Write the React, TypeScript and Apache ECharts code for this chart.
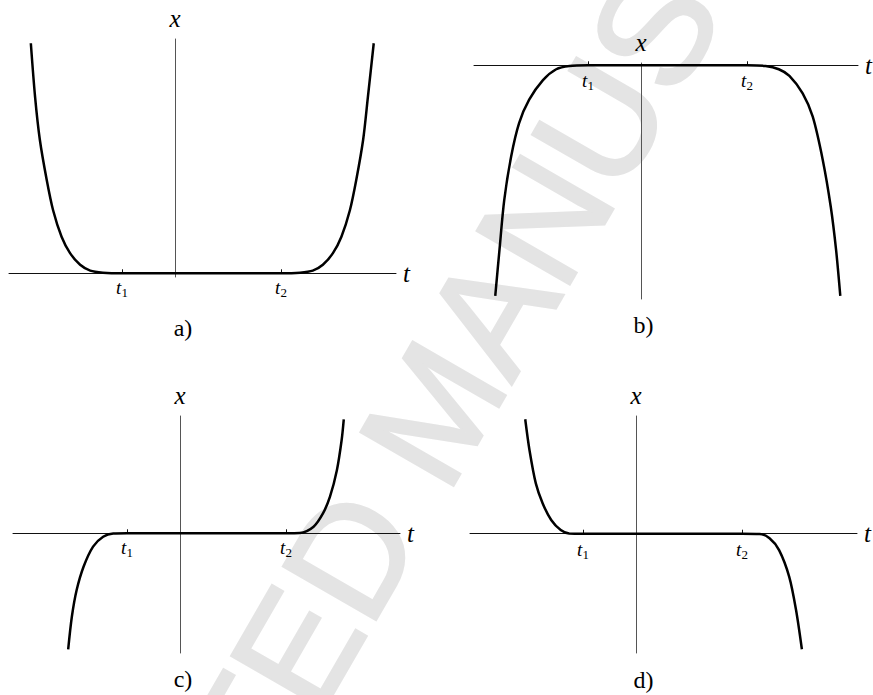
import React, { useEffect, useRef } from 'react';
import * as echarts from 'echarts';

// Panel a) : x >= 0, flat between t1 and t2, rising on both sides
const T_A = [-2.72, -2.64, -2.55, -2.42, -2.30, -2.14, -1.98, -1.79, -1.60, -1.36, -1.0, 2.0, 2.36, 2.60, 2.79, 2.98, 3.14, 3.30, 3.42, 3.55, 3.64, 3.75];
const X_A = [4.34, 3.33, 2.52, 1.76, 1.19, 0.69, 0.38, 0.16, 0.05, 0.012, 0, 0, 0.012, 0.05, 0.16, 0.38, 0.69, 1.19, 1.76, 2.52, 3.33, 4.34];

// Panel b) : x <= 0, falling on both sides
const T_B = [-2.75, -2.67, -2.58, -2.45, -2.30, -2.11, -1.85, -1.60, -1.35, -1.0, 2.0, 2.35, 2.60, 2.80, 3.05, 3.24, 3.43, 3.58, 3.68, 3.76];
const X_B = [-4.35, -3.48, -2.54, -1.72, -1.09, -0.65, -0.28, -0.075, -0.013, 0, 0, -0.013, -0.075, -0.2, -0.53, -0.97, -1.79, -2.67, -3.48, -4.35];

// Panel c) : negative before t1, positive after t2
const T_C = [-2.11, -2.04, -1.95, -1.82, -1.64, -1.45, -1.26, -1.0, 2.0, 2.26, 2.52, 2.70, 2.83, 2.96, 3.05, 3.09];
const X_C = [-2.19, -1.57, -1.07, -0.63, -0.25, -0.064, -0.005, 0, 0, 0.005, 0.125, 0.38, 0.69, 1.19, 1.76, 2.15];

// Panel d) : positive before t1, negative after t2
const T_D = [-2.09, -2.01, -1.89, -1.76, -1.60, -1.42, -1.26, -1.0, 2.0, 2.33, 2.52, 2.70, 2.89, 3.02, 3.13];
const X_D = [2.16, 1.58, 0.95, 0.57, 0.26, 0.07, 0.005, 0, 0, -0.005, -0.087, -0.31, -0.81, -1.44, -2.18];

const TICK_VALUES = [-1, 2];
const TICK_SUBSCRIPTS = ['1', '2'];
const PANEL_LABELS = ['a)', 'b)', 'c)', 'd)'];
const T_NAME = 't';
const X_NAME = 'x';
const WATERMARK = 'ACCEPTED MANUSCRIPT';

const SERIF = 'Liberation Serif';
const SANS = 'Liberation Sans';

const zip = (t: number[], x: number[]) => t.map((v, i) => [v, x[i]]);

export default function App() {
  const ref = useRef<HTMLDivElement>(null);

  useEffect(() => {
    if (!ref.current) return;
    const chart = echarts.init(ref.current, null, { renderer: 'svg' });

    // axisY: pixel row of the t-axis line; labelGap: distance from the line to the top of the tick labels
    const panels = [
      { grid: { left: 9, top: 39, width: 387, height: 238 }, xr: [-3.132, 4.17], yr: [-0.07, 4.42], data: zip(T_A, X_A), label: [183, 327.5], axisY: 273.3, labelGap: 4.7 },
      { grid: { left: 474, top: 63, width: 384, height: 236 }, xr: [-3.151, 4.094], yr: [-4.41, 0.043], data: zip(T_B, X_B), label: [643.5, 325], axisY: 65.3, labelGap: 6 },
      { grid: { left: 13, top: 416, width: 387, height: 237 }, xr: [-3.151, 4.151], yr: [-2.258, 2.213], data: zip(T_C, X_C), label: [183, 679], axisY: 533.3, labelGap: 4.7 },
      { grid: { left: 470, top: 416, width: 387, height: 237 }, xr: [-3.132, 4.17], yr: [-2.251, 2.221], data: zip(T_D, X_D), label: [643.5, 680], axisY: 533.7, labelGap: 6 },
    ];

    const option: any = {
      animation: false,
      backgroundColor: '#ffffff',
      textStyle: { fontFamily: SERIF },
      grid: panels.map((p) => ({ ...p.grid, containLabel: false })),
      xAxis: panels.map((p, i) => ({
        type: 'value',
        gridIndex: i,
        min: p.xr[0],
        max: p.xr[1],
        name: T_NAME,
        nameLocation: 'end',
        nameGap: 7,
        nameTextStyle: { fontFamily: SERIF, fontStyle: 'italic', fontSize: 25, color: '#000' },
        axisLine: { show: true, onZero: true, lineStyle: { color: '#111', width: 1 } },
        axisTick: { show: true, inside: true, length: 4, customValues: TICK_VALUES, lineStyle: { color: '#111', width: 1 } },
        axisLabel: {
          show: true,
          // labels are laid out from the grid's bottom edge; bring them up under the t-axis line
          margin: p.axisY + p.labelGap - (p.grid.top + p.grid.height),
          customValues: TICK_VALUES,
          fontFamily: SERIF,
          formatter: (v: number) => `{t|t}{s|${TICK_SUBSCRIPTS[TICK_VALUES.indexOf(Math.round(v))] ?? ''}}`,
          rich: {
            t: { fontFamily: SERIF, fontStyle: 'italic', fontSize: 19, color: '#000', padding: [0, 0, 2, 0], verticalAlign: 'bottom' },
            s: { fontFamily: SERIF, fontSize: 13, color: '#000', verticalAlign: 'bottom' },
          },
        },
        splitLine: { show: false },
      })),
      yAxis: panels.map((p, i) => ({
        type: 'value',
        gridIndex: i,
        min: p.yr[0],
        max: p.yr[1],
        name: X_NAME,
        nameLocation: 'end',
        nameGap: 8,
        nameTextStyle: { fontFamily: SERIF, fontStyle: 'italic', fontSize: 25, color: '#000', align: 'center' },
        axisLine: { show: true, onZero: true, lineStyle: { color: '#555', width: 1 } },
        axisTick: { show: false },
        axisLabel: { show: false },
        splitLine: { show: false },
      })),
      series: panels.map((p, i) => ({
        type: 'line',
        xAxisIndex: i,
        yAxisIndex: i,
        data: p.data,
        showSymbol: false,
        symbol: 'none',
        smooth: 0.3,
        silent: true,
        lineStyle: { color: '#000', width: 2.5 },
        z: 5,
      })),
      graphic: [
        {
          type: 'text',
          x: 435,
          y: 410,
          rotation: Math.PI / 3,
          z: -10,
          silent: true,
          style: {
            text: WATERMARK,
            fontFamily: SANS,
            fontSize: 155,
            fill: '#e4e4e4',
            stroke: '#e4e4e4',
            lineWidth: 3,
            align: 'center',
            verticalAlign: 'middle',
            textAlign: 'center',
            textVerticalAlign: 'middle',
          },
        },
        ...panels.map((p, i) => ({
          type: 'text',
          x: p.label[0],
          y: p.label[1],
          silent: true,
          style: {
            text: PANEL_LABELS[i],
            fontFamily: SERIF,
            fontSize: 24,
            fill: '#000',
            align: 'center',
            verticalAlign: 'middle',
            textAlign: 'center',
            textVerticalAlign: 'middle',
          },
        })),
      ],
    };

    chart.setOption(option);
    return () => chart.dispose();
  }, []);

  return (
    <div
      ref={ref}
      style={{ position: 'absolute', left: 0, top: 0, width: 873, height: 695, background: '#fff' }}
    />
  );
}
